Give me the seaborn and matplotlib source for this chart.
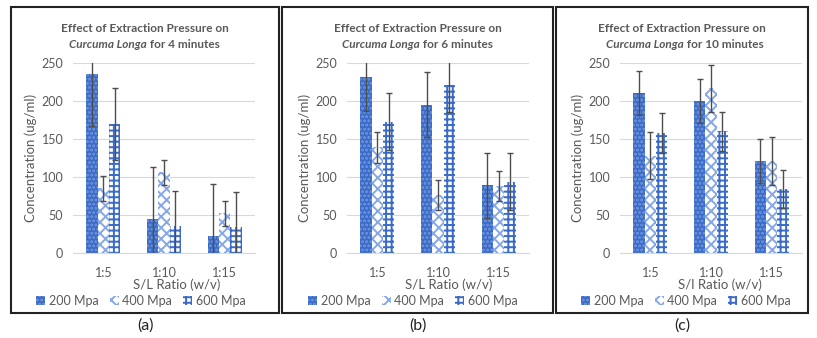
import numpy as np
import pandas as pd
import matplotlib
matplotlib.use("Agg")
import matplotlib.pyplot as plt
import seaborn as sns
from matplotlib.patches import Patch, Rectangle

# Data (ug/ml), one list per pressure, values for 1:5, 1:10, 1:15
ratios = ['1:5', '1:10', '1:15']
pressures = ['200 Mpa', '400 Mpa', '600 Mpa']

mean_4min = {'200 Mpa': [235, 45, 23], '400 Mpa': [85, 106, 52], '600 Mpa': [170, 36, 34]}
err_4min = {'200 Mpa': [68, 68, 68], '400 Mpa': [16, 16, 17], '600 Mpa': [47, 45, 46]}
mean_6min = {'200 Mpa': [232, 195, 89], '400 Mpa': [139, 76, 88], '600 Mpa': [173, 221, 94]}
err_6min = {'200 Mpa': [45, 43, 43], '400 Mpa': [20, 20, 20], '600 Mpa': [38, 36, 38]}
mean_10min = {'200 Mpa': [210, 200, 121], '400 Mpa': [128, 217, 121], '600 Mpa': [158, 160, 84]}
err_10min = {'200 Mpa': [29, 29, 29], '400 Mpa': [31, 31, 31], '600 Mpa': [26, 26, 25]}

titles = ['4 minutes', '6 minutes', '10 minutes']
xlabels = ['S/L Ratio (w/v)', 'S/L Ratio (w/v)', 'S/l Ratio (w/v)']
panel_tags = ['(a)', '(b)', '(c)']

sns.set_style("white")
plt.rcParams['font.family'] = ['Lato', 'DejaVu Sans']
plt.rcParams['hatch.linewidth'] = 1.4

blue = '#3A6BC8'
light_blue = '#86A8E6'
grey = '#595959'

styles = {
    '200 Mpa': dict(facecolor=blue, hatch='....', edgecolor='#7397DC'),
    '400 Mpa': dict(facecolor='white', hatch='xxx', edgecolor=light_blue),
    '600 Mpa': dict(facecolor='white', hatch='+++', edgecolor=blue),
}

def style_patch(patch, p):
    patch.set_facecolor(styles[p]['facecolor'])
    patch.set_edgecolor(styles[p]['edgecolor'])
    patch.set_hatch(styles[p]['hatch'])
    patch.set_linewidth(0)

W, H = 817, 338
fig = plt.figure(figsize=(W / 100, H / 100), dpi=100)

ax_px = [(73, 182), (347, 182), (620, 182)]
panels_px = [(11, 279), (282, 553), (556, 808)]
xlabel_cx = [177, 449, 720]
legend_cx = [141, 413, 686]

def fx(px):
    return px / W

def fy(py):
    return 1 - py / H

all_means = [mean_4min, mean_6min, mean_10min]
all_errs = [err_4min, err_6min, err_10min]

for i in range(3):
    left, width = ax_px[i]
    ax = fig.add_axes([fx(left), fy(253), fx(width), 190 / H])

    means, errs = all_means[i], all_errs[i]
    df = pd.DataFrame({
        'ratio': np.repeat([ratios], 3, axis=0).ravel(),
        'pressure': np.repeat(pressures, 3),
        'conc': np.concatenate([means[p] for p in pressures]),
    })

    sns.barplot(data=df, x='ratio', y='conc', hue='pressure', order=ratios,
                hue_order=pressures, errorbar=None, width=0.56, gap=0,
                legend=False, ax=ax, zorder=2)

    for cont, p in zip(ax.containers, pressures):
        for bar, e in zip(cont.patches, errs[p]):
            style_patch(bar, p)
            cx = bar.get_x() + bar.get_width() / 2
            ax.errorbar(cx, bar.get_height(), yerr=e, color='#4D4D4D',
                        lw=1, capsize=2, capthick=1, zorder=3)

    ax.set_xlim(-0.5, 2.5)
    ax.set_ylim(0, 250)
    ax.set_yticks(range(0, 251, 50))
    ax.yaxis.grid(True, color='#D9D9D9', lw=0.8, zorder=0)
    ax.set_axisbelow(True)
    for s in ['top', 'right', 'left']:
        ax.spines[s].set_visible(False)
    ax.spines['bottom'].set_color('#D9D9D9')
    ax.tick_params(axis='both', length=0, labelsize=9, colors=grey)
    ax.tick_params(axis='x', pad=10)
    ax.tick_params(axis='y', pad=7)
    ax.set_ylabel('Concentration (ug/ml)', fontsize=9.5, color=grey)
    ax.yaxis.set_label_coords(-36 / width, 0.5)
    ax.set_xlabel(xlabels[i], fontsize=9.5, color=grey)
    ax.xaxis.set_label_coords((xlabel_cx[i] - left) / width, -(285 - 253) / 190)
    ax.xaxis.label.set_va('center')

    handles = [Patch(lw=0) for p in pressures]
    for h, p in zip(handles, pressures):
        style_patch(h, p)
    ax.legend(handles, pressures, loc='center',
              bbox_to_anchor=(fx(legend_cx[i]), fy(301)),
              bbox_transform=fig.transFigure,
              ncol=3, frameon=False, fontsize=9, handlelength=0.7,
              handleheight=0.7, handletextpad=0.3, columnspacing=0.9,
              labelcolor=grey, borderpad=0)

    # panel frame, title and tag
    x0, x1 = panels_px[i]
    fig.add_artist(Rectangle((fx(x0), fy(313)), fx(x1 - x0), (313 - 7) / H,
                             transform=fig.transFigure, fill=False,
                             edgecolor='#222222', lw=1.5))
    cx = (x0 + x1) / 2
    fig.text(fx(cx), fy(28), 'Effect of Extraction Pressure on', ha='center',
             va='center', fontsize=8.5, fontweight='bold', color=grey)
    fig.text(fx(cx + 2), fy(45), 'Curcuma Longa', ha='right', va='center',
             fontsize=8.5, fontweight='bold', style='italic', color=grey)
    fig.text(fx(cx + 2), fy(45), ' for ' + titles[i], ha='left', va='center',
             fontsize=8.5, fontweight='bold', color=grey)
    fig.text(fx(cx), fy(326), panel_tags[i], ha='center', va='center',
             fontsize=11.5, color='#222222')

fig.savefig('out.png', dpi=100)
